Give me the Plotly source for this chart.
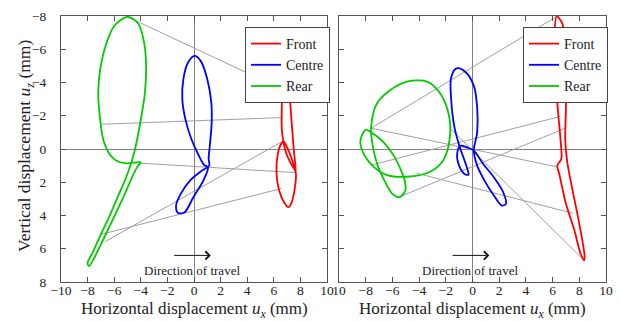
import plotly.graph_objects as go

# ---------------- data (mm) ----------------
# Left panel
L_rear_x = [-4.0, -5.06, -5.8, -6.3, -6.8, -7.0, -7.15, -7.2, -7.05, -6.65, -6.0, -5.0, -4.2, -3.75, -3.6, -3.7, -3.95,
            -4.15, -4.45, -4.7, -5.2, -5.8, -6.5, -7.1, -7.6, -8.0, -7.9, -7.6, -7.1, -6.55, -5.9, -5.2, -4.6, -4.2, -4.0]
L_rear_y = [0.8, 0.86, 0.72, 0.36, -0.5, -1.4, -2.5, -3.5, -4.8, -6.2, -7.4, -7.95, -7.55, -6.4, -4.9, -3.3, -2.0,
            -1.1, 0.06, 0.8, 1.9, 3.0, 4.3, 5.3, 6.2, 6.85, 7.05, 6.7, 5.9, 5.0, 3.9, 2.7, 1.6, 1.0, 0.8]

L_centre_x = [0.75, 0.3, -0.2, -0.65, -0.88, -0.8, -0.45, 0.05, 0.5, 1.0, 1.3, 1.33, 1.2, 1.1, 1.15,
              0.6, -0.3, -1.0, -1.35, -1.2, -0.7, -0.05, 0.7, 1.05, 0.75]
L_centre_y = [0.95, 0.3, -0.6, -1.8, -3.0, -4.2, -5.2, -5.6, -5.3, -4.2, -2.8, -1.6, -0.3, 0.6, 1.0,
              1.3, 1.9, 2.7, 3.4, 3.85, 3.8, 2.9, 1.9, 1.1, 0.95]

L_front_x = [7.65, 7.5, 7.35, 7.2, 7.0, 6.8, 6.65, 6.6, 6.6, 6.75, 6.95, 7.3, 7.65,
             7.55, 7.3, 7.1, 6.8, 6.4, 6.2, 6.3, 6.55, 6.75, 7.0, 7.35, 7.65]
L_front_y = [1.4, 0.0, -1.5, -3.0, -3.9, -4.05, -3.6, -2.4, -1.2, -0.3, 0.3, 0.9, 1.4,
             2.5, 3.3, 3.5, 3.25, 2.5, 1.4, 0.3, -0.3, -0.45, -0.1, 0.6, 1.4]

# link lines (rear point -> front point)
L_link_x0 = [-5.0, -6.94, -4.05, -7.07, -6.7]
L_link_y0 = [-7.95, -1.49, 0.85, 5.15, 5.58]
L_link_x1 = [7.0, 6.6, 7.6, 6.6, 6.6]
L_link_y1 = [-3.45, -1.89, 1.42, 2.37, -0.44]

# Right panel
R_rear_x = [-7.6, -7.15, -6.15, -4.9, -3.4, -2.43, -1.8, -1.69, -2.18, -3.17, -4.93, -6.4, -7.4, -8.2, -8.4, -8.0,
            -7.4, -6.6, -5.9, -5.4, -5.05, -5.05, -5.5, -6.0, -6.6, -7.1, -7.45, -7.6]
R_rear_y = [-1.25, -2.75, -3.55, -4.05, -4.05, -3.35, -2.15, -0.74, 0.66, 1.37, 1.67, 1.57, 1.07, 0.2, -0.5, -1.15,
            -0.9, -0.35, 0.4, 1.2, 2.0, 2.55, 2.9, 2.7, 1.9, 1.0, -0.1, -1.25]

R_centre_x = [0.1, 0.35, 0.35, 0.1, -0.55, -1.2, -1.6, -1.6, -1.35, -0.95, -0.55, -0.35, -0.3, -0.6, -1.0, -1.15,
              -0.9, -0.4, 0.1, 0.8, 1.6, 2.3, 2.5, 2.2, 1.6, 0.9, 0.35, 0.1]
R_centre_y = [0.1, -1.0, -2.5, -3.8, -4.65, -4.85, -4.3, -3.0, -1.3, -0.1, 0.8, 1.3, 1.55, 1.5, 1.0, 0.3,
              -0.2, -0.1, 0.1, 0.9, 1.7, 2.6, 3.3, 3.4, 2.8, 1.9, 1.0, 0.1]

R_front_x = [6.3, 6.15, 6.2, 6.4, 6.6, 6.65, 6.35, 6.5, 7.0, 7.6, 8.1, 8.35, 8.4, 8.0, 7.5, 7.1, 6.95, 7.0, 7.05,
             6.95, 6.7, 6.3]
R_front_y = [-7.97, -6.5, -4.5, -2.3, -0.5, 0.6, 1.0, 1.5, 3.3, 4.8, 6.3, 6.7, 6.5, 4.5, 2.5, 0.8, -0.5, -2.5, -4.5,
             -6.5, -7.6, -7.97]

R_link_x0 = [-7.6, -7.6, -7.55, -5.43, -4.18, -1.75]
R_link_y0 = [-1.25, -1.25, 0.96, 2.87, 1.46, -1.3]
R_link_x1 = [6.3, 6.31, 6.55, 6.93, 7.55, 8.3]
R_link_y1 = [-7.97, 1.07, -1.95, -1.25, 3.87, 6.65]

series_names = ["Front", "Centre", "Rear"]
series_colors = ["#ff0000", "#0000ff", "#00cc00"]

tick_vals = [-10, -8, -6, -4, -2, 0, 2, 4, 6, 8, 10]
left_x_ticktext = ["−10", "−8", "−6", "−4", "−2", "0", "2", "4", "6", "8", "10"]
right_x_ticktext = ["10", "−8", "−6", "−4", "−2", "0", "2", "4", "6", "8", "10"]
y_tick_vals = [-8, -6, -4, -2, 0, 2, 4, 6, 8]
y_ticktext = ["−8", "−6", "−4", "−2", "0", "2", "4", "6", "8"]

x_title = "Horizontal displacement <i>u</i><sub><i>x</i></sub> (mm)"
y_title = "Vertical displacement <i>u</i><sub><i>z</i></sub> (mm)"
arrow_label = "Direction of travel"

FONT = "Liberation Serif, Times New Roman, serif"
W, H = 620, 321

fig = go.Figure()


def links(x0, y0, x1, y1):
    xs, ys = [], []
    for a, b, c, d in zip(x0, y0, x1, y1):
        xs += [a, c, None]
        ys += [b, d, None]
    return xs, ys


for xa, ya, lx0, ly0, lx1, ly1 in [("x", "y", L_link_x0, L_link_y0, L_link_x1, L_link_y1),
                                   ("x2", "y2", R_link_x0, R_link_y0, R_link_x1, R_link_y1)]:
    xs, ys = links(lx0, ly0, lx1, ly1)
    fig.add_trace(go.Scatter(x=xs, y=ys, xaxis=xa, yaxis=ya, mode="lines",
                             line=dict(color="#a0a0a0", width=1), showlegend=False, hoverinfo="skip"))

panels = [
    ("x", "y", "legend", [(L_front_x, L_front_y), (L_centre_x, L_centre_y), (L_rear_x, L_rear_y)]),
    ("x2", "y2", "legend2", [(R_front_x, R_front_y), (R_centre_x, R_centre_y), (R_rear_x, R_rear_y)]),
]
for xa, ya, lg, data in panels:
    for name, col, (xs, ys) in zip(series_names, series_colors, data):
        fig.add_trace(go.Scatter(x=xs, y=ys, xaxis=xa, yaxis=ya, mode="lines", name=name,
                                 line=dict(color=col, width=1.8, shape="spline", smoothing=0.9),
                                 legend=lg, hoverinfo="skip"))

axis_common = dict(
    showline=True, linecolor="#555555", linewidth=1, mirror="allticks",
    ticks="inside", ticklen=5, tickcolor="#555555", tickwidth=1,
    showgrid=False, zeroline=True, zerolinecolor="#808080", zerolinewidth=1,
    tickfont=dict(family=FONT, size=13.5, color="#222222"), automargin=False,
)

y_dom = [1 - 282 / H, 1 - 16 / H]
fig.update_layout(
    width=W, height=H, margin=dict(l=0, r=0, t=0, b=0),
    plot_bgcolor="white", paper_bgcolor="white",
    xaxis=dict(domain=[61 / W, 327 / W], range=[-10, 10], tickvals=tick_vals, ticktext=left_x_ticktext,
               ticklabelstandoff=-4, anchor="y", **axis_common),
    yaxis=dict(domain=y_dom, range=[8, -8], tickvals=y_tick_vals, ticktext=y_ticktext,
               ticklabelstandoff=11, anchor="x", **axis_common),
    xaxis2=dict(domain=[339 / W, 606 / W], range=[-10, 10], tickvals=tick_vals, ticktext=right_x_ticktext,
                ticklabelstandoff=-4, anchor="y2", **axis_common),
    yaxis2=dict(domain=y_dom, range=[8, -8], tickvals=y_tick_vals,
                showticklabels=False, anchor="x2", **axis_common),
    legend=dict(x=245 / W, y=1 - 27 / H, xanchor="left", yanchor="top", bgcolor="white",
                bordercolor="#444444", borderwidth=1, itemwidth=30, tracegroupgap=0,
                font=dict(family=FONT, size=14, color="#222222")),
    legend2=dict(x=523 / W, y=1 - 27 / H, xanchor="left", yanchor="top", bgcolor="white",
                 bordercolor="#444444", borderwidth=1, itemwidth=30, tracegroupgap=0,
                 font=dict(family=FONT, size=14, color="#222222")),
    showlegend=True,
)

# axis titles
for cx in [194 / W, 472.5 / W]:
    fig.add_annotation(x=cx, y=1 - 310 / H, xref="paper", yref="paper", xanchor="center", yanchor="middle",
                       text=x_title, showarrow=False, font=dict(family=FONT, size=17, color="#222222"))
fig.add_annotation(x=25 / W, y=1 - 146 / H, xref="paper", yref="paper", xanchor="center", yanchor="middle",
                   text=y_title, textangle=-90, showarrow=False, font=dict(family=FONT, size=17.5, color="#222222"))

arrow_x0 = -1.6
arrow_x1 = 1.26
arrow_y = 6.4
label_x = -0.17
label_y = 7.3
for xa, ya in [("x", "y"), ("x2", "y2")]:
    fig.add_annotation(x=arrow_x1, y=arrow_y, ax=arrow_x0, ay=arrow_y, xref=xa, yref=ya, axref=xa, ayref=ya,
                       showarrow=True, arrowhead=4, arrowsize=1.6, arrowwidth=1, arrowcolor="#111111", text="")
    fig.add_annotation(x=label_x, y=label_y, xref=xa, yref=ya, showarrow=False, text=arrow_label,
                       font=dict(family=FONT, size=13, color="#222222"))

fig.write_html("out.html", config={"displayModeBar": False},
               post_script="document.body.style.margin='0';document.body.style.overflow='hidden';")
